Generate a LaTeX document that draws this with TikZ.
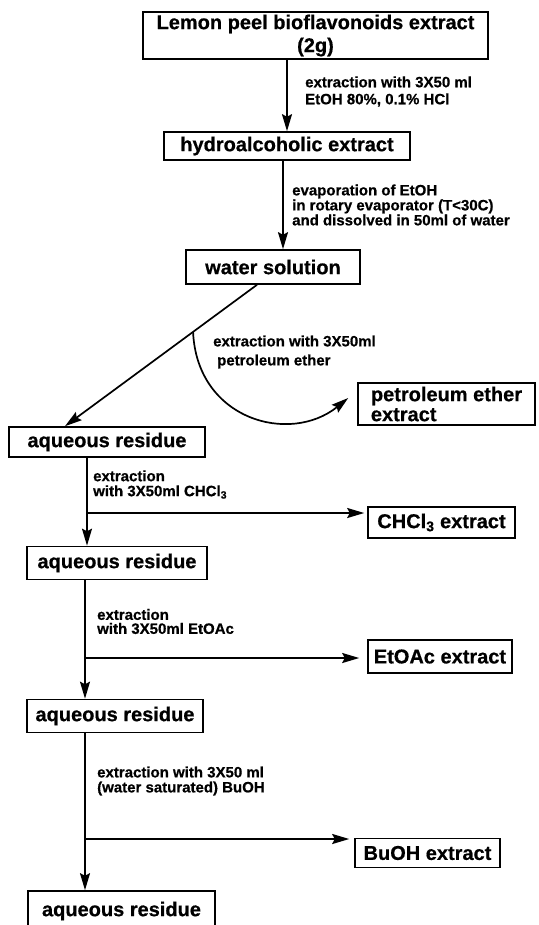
\documentclass[tikz,border=0pt]{standalone}
\usepackage{fontspec}
\setmainfont{Liberation Sans}[BoldFeatures={FakeBold=0.6}]
\usetikzlibrary{arrows.meta,calc}
\begin{document}
\begin{tikzpicture}[x=1pt,y=-1pt,
  box/.style={draw, line width=1.6pt, inner sep=0pt, align=center,
    font=\fontsize{20}{23}\selectfont\bfseries},
  lab/.style={anchor=west, inner sep=0pt, align=left,
    font=\fontsize{15}{15}\selectfont\bfseries},
  arr/.style={line width=1.7pt, -{Stealth[length=17pt,width=10pt,inset=2.5pt]}}]
\useasboundingbox (0,0) rectangle (538,925);

% boxes
\node[box, minimum width=345pt, minimum height=47pt] (A) at (315.5,35.5) {Lemon peel bioflavonoids extract\\(2g)};
\node[box, minimum width=246pt, minimum height=28pt] (B) at (287,146) {hydroalcoholic extract};
\node[box, minimum width=174pt, minimum height=34pt] (C) at (273,267) {water solution};
\node[box, minimum width=177pt, minimum height=42pt, align=left,
      font=\fontsize{20}{20}\selectfont\bfseries] (P) at (446.5,404) {petroleum ether\\extract};
\node[box, minimum width=196pt, minimum height=30pt] (aq1) at (107,442) {aqueous residue};
\node[box, minimum width=147pt, minimum height=31pt] (chcl) at (441.5,522.5) {CHCl\textsubscript{3} extract};
\node[box, minimum width=180pt, minimum height=33pt] (aq2) at (117,563) {aqueous residue};
\node[box, minimum width=144pt, minimum height=33pt] (etoac) at (440,656.5) {EtOAc extract};
\node[box, minimum width=176pt, minimum height=33pt] (aq3) at (115,716) {aqueous residue};
\node[box, minimum width=145pt, minimum height=29pt] (buoh) at (427.5,853) {BuOH extract};
\node[box, minimum width=187pt, minimum height=40pt] (aq4) at (121.5,911) {aqueous residue};

% labels
\node[lab, font=\fontsize{15}{17}\selectfont\bfseries] (l1) at (305,91.5) {extraction with 3X50 ml\\EtOH 80\%, 0.1\% HCl};
\node[lab] (l2) at (292,205) {evaporation of EtOH\\in rotary evaporator (T<30C)\\and dissolved in 50ml of water};
\node[lab, font=\fontsize{15}{19}\selectfont\bfseries] (l3) at (213,352) {extraction with 3X50ml\\\hspace{4pt}petroleum ether};
\node[lab] (l4) at (93,484.5) {extraction\\with 3X50ml CHCl\textsubscript{3}};
\node[lab, font=\fontsize{15}{14}\selectfont\bfseries] (l5) at (97,621.5) {extraction\\with 3X50ml EtOAc};
\node[lab] (l6) at (97,781) {extraction with 3X50 ml\\(water saturated) BuOH};

% helper coordinates
\coordinate (x2) at (283,0);
\coordinate (xa) at (257,0);
\coordinate (xb) at (65,0);
\coordinate (x1) at (87,0);
\coordinate (x3) at (85,0);
\coordinate (b1) at (87,513);
\coordinate (b2) at (85,658);
\coordinate (b3) at (85,839);

% connectors
\draw[arr] (A.south -| B.north) -- (B.north);
\draw[arr] (B.south -| x2) -- (C.north -| x2);
\draw[arr] (C.south -| xa) -- (aq1.north -| xb);
\coordinate (cs) at ($(C.south -| xa)!0.333!(aq1.north -| xb)$);
\coordinate (pe) at ($(P.west)+(-9,-6)$);
\draw[arr] (cs) .. controls (197,420) and (290,445) .. (pe);

\draw[arr] (aq1.south -| x1) -- (aq2.north -| x1);
\draw[arr, shorten >=3pt] (b1) -- (b1 -| chcl.west);

\draw[arr] (aq2.south -| x3) -- (aq3.north -| x3);
\draw[arr, shorten >=8pt] (b2) -- (b2 -| etoac.west);

\draw[arr] (aq3.south -| x3) -- (aq4.north -| x3);
\draw[arr, shorten >=5pt] (b3) -- (b3 -| buoh.west);
\end{tikzpicture}
\end{document}
